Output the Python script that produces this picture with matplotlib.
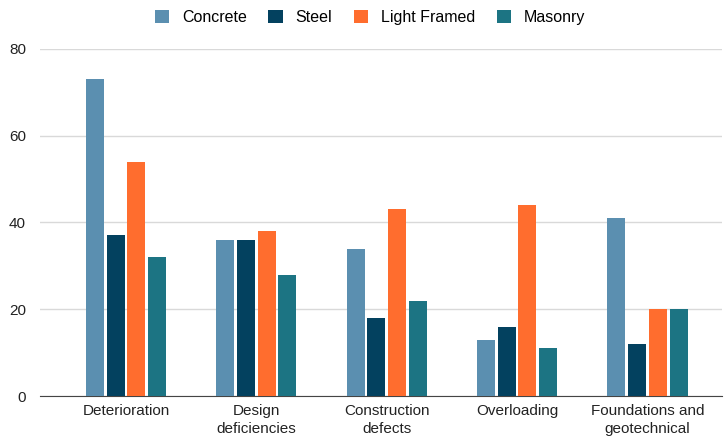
import numpy as np
import matplotlib
matplotlib.use("Agg")
import matplotlib.pyplot as plt

plt.rcParams['font.family'] = ['Liberation Sans', 'DejaVu Sans']

categories = ["Deterioration", "Design\ndeficiencies", "Construction\ndefects",
              "Overloading", "Foundations and\ngeotechnical"]
series_names = ["Concrete", "Steel", "Light Framed", "Masonry"]
concrete = [73, 36, 34, 13, 41]
steel = [37, 36, 18, 16, 12]
light_framed = [54, 38, 43, 44, 20]
masonry = [32, 28, 22, 11, 20]
colors = ["#5b8fb0", "#03415f", "#ff6d2e", "#1c7483"]

fig = plt.figure(figsize=(7.24, 4.41), dpi=100)
ax = fig.add_axes([0.055, 0.102, 0.942, 0.787])

x = np.arange(len(categories))
w = 0.138
step = 0.159
for i, (vals, name) in enumerate(zip([concrete, steel, light_framed, masonry], series_names)):
    ax.bar(x + (i - 1.5) * step, vals, width=w, color=colors[i], label=name, zorder=3)

ax.set_ylim(0, 80)
ax.set_xlim(-0.66, 4.57)
ax.set_yticks([0, 20, 40, 60, 80])
ax.yaxis.grid(True, color="#d9d9d9", linewidth=1)
ax.set_axisbelow(True)
for s in ["top", "right", "left"]:
    ax.spines[s].set_visible(False)
ax.spines["bottom"].set_color("#444444")
ax.tick_params(axis="both", length=0, labelsize=11, colors="#222222")
ax.tick_params(axis="y", pad=10)
ax.tick_params(axis="x", pad=6)
ax.set_xticks(x)
ax.set_xticklabels(categories, linespacing=1.3)

ax.legend(loc="upper center", bbox_to_anchor=(0.484, 1.155), ncol=4, frameon=False,
          fontsize=11.5, handlelength=0.9, handleheight=0.9, columnspacing=1.35,
          handletextpad=0.8)

fig.savefig("out.png", dpi=100)
